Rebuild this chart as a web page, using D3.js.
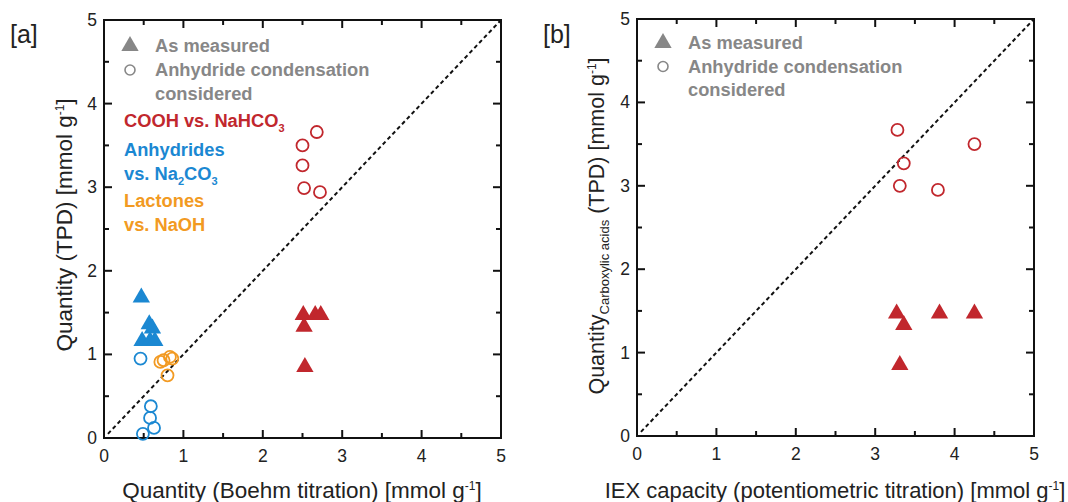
<!DOCTYPE html>
<html>
<head>
<meta charset="utf-8">
<script src="https://cdn.jsdelivr.net/npm/d3@7"></script>
<style>
  body { margin: 0; background: #fff; }
  svg { display: block; font-family: "Liberation Sans", Arial, sans-serif; }
</style>
</head>
<body>
<svg id="chart" width="1068" height="502"></svg>
<script>
// ── Data ──────────────────────────────────────────────────────
const RED = "#c1272d", BLUE = "#1b88d2", ORANGE = "#f29a22", GREY = "#878787";

// panel a: Boehm titration vs TPD
const cooh_meas   = [[2.51,1.47],[2.66,1.47],[2.73,1.47],[2.52,1.33],[2.53,0.85]];
const cooh_cond   = [[2.68,3.66],[2.50,3.50],[2.50,3.26],[2.52,2.99],[2.72,2.94]];
const anh_meas    = [[0.47,1.68],[0.57,1.36],[0.61,1.31],[0.48,1.16],[0.58,1.16],[0.64,1.16]];
const anh_cond    = [[0.46,0.95],[0.59,0.38],[0.58,0.24],[0.63,0.12],[0.49,0.05]];
const lact_cond   = [[0.71,0.91],[0.75,0.93],[0.83,0.97],[0.86,0.95],[0.80,0.75]];

// panel b: IEX capacity vs TPD carboxylic acids
const iex_meas = [[3.27,1.47],[3.36,1.33],[3.81,1.47],[4.25,1.47],[3.31,0.85]];
const iex_cond = [[3.28,3.67],[3.36,3.27],[3.31,3.00],[3.79,2.95],[4.25,3.50]];

const majorTicks = [0, 1, 2, 3, 4, 5];
const minorTicks = [0.5, 1.5, 2.5, 3.5, 4.5];

const svg = d3.select("#chart");
const tri = d3.symbol().type(d3.symbolTriangle).size(130);

function panel(o) {
  const x = d3.scaleLinear().domain([0, 5]).range([o.left, o.right]);
  const y = d3.scaleLinear().domain([0, 5]).range([o.bottom, o.top]);
  const g = svg.append("g");

  // frame
  g.append("rect")
    .attr("x", o.left).attr("y", o.top)
    .attr("width", o.right - o.left).attr("height", o.bottom - o.top)
    .attr("fill", "none").attr("stroke", "#111").attr("stroke-width", 2);

  // inward ticks on all four sides
  const tk = (vals, len) => {
    vals.forEach(v => {
      g.append("line").attr("x1", x(v)).attr("x2", x(v)).attr("y1", o.bottom).attr("y2", o.bottom - len);
      g.append("line").attr("x1", x(v)).attr("x2", x(v)).attr("y1", o.top).attr("y2", o.top + len);
      g.append("line").attr("y1", y(v)).attr("y2", y(v)).attr("x1", o.left).attr("x2", o.left + len);
      g.append("line").attr("y1", y(v)).attr("y2", y(v)).attr("x1", o.right).attr("x2", o.right - len);
    });
  };
  tk(majorTicks, 8);
  tk(minorTicks, 5);
  g.selectAll("line").attr("stroke", "#111").attr("stroke-width", 2);

  // tick labels
  g.selectAll(".xl").data(majorTicks).join("text")
    .attr("x", d => x(d)).attr("y", o.bottom + 24)
    .attr("text-anchor", "middle").attr("font-size", 17.5).attr("fill", "#222")
    .text(d => d);
  g.selectAll(".yl").data(majorTicks).join("text")
    .attr("x", o.left - 7).attr("y", d => y(d) + 6)
    .attr("text-anchor", "end").attr("font-size", 17.5).attr("fill", "#222")
    .text(d => d);

  // 1:1 line
  g.append("line")
    .attr("x1", x(0.05)).attr("y1", y(0.05)).attr("x2", x(5)).attr("y2", y(5))
    .attr("stroke", "#111").attr("stroke-width", 2).attr("stroke-dasharray", "4,3");

  return { g, x, y };
}

function triangles(p, data, color) {
  p.g.selectAll(null).data(data).join("path")
    .attr("d", tri)
    .attr("transform", d => `translate(${p.x(d[0])},${p.y(d[1])})`)
    .attr("fill", color);
}
function circles(p, data, color) {
  p.g.selectAll(null).data(data).join("circle")
    .attr("cx", d => p.x(d[0])).attr("cy", d => p.y(d[1])).attr("r", 6)
    .attr("fill", "none").attr("stroke", color).attr("stroke-width", 1.8);
}

function legend(p, lx, ly, tx, gap) {
  p.g.append("path").attr("d", tri).attr("fill", GREY)
    .attr("transform", `translate(${lx},${ly})`);
  p.g.append("circle").attr("cx", lx).attr("cy", ly + gap).attr("r", 5)
    .attr("fill", "none").attr("stroke", GREY).attr("stroke-width", 1.6);
  const t = (s, yy) => p.g.append("text").attr("x", tx).attr("y", yy)
    .attr("font-size", 18.3).attr("font-weight", "bold").attr("fill", GREY).text(s);
  t("As measured", ly + 6);
  t("Anhydride condensation", ly + 6 + gap);
  t("considered", ly + 6 + 2 * gap);
}

function rotLabel(x0, y0, parts, fs) {
  const t = svg.append("text")
    .attr("transform", `translate(${x0},${y0}) rotate(-90)`)
    .attr("text-anchor", "middle").attr("font-size", fs).attr("fill", "#222");
  addParts(t, parts);
}
function addParts(t, parts) {
  let shift = 0;
  parts.forEach(([s, mode, fs]) => {
    const target = mode === "sup" ? -8 : mode === "sub" ? 5 : 0;
    t.append("tspan")
      .attr("font-size", mode ? (fs || 12) : null)
      .attr("dy", target - shift)
      .text(s);
    shift = target;
  });
}

// ── Panel a ───────────────────────────────────────────────────
const pa = panel({ left: 104, right: 501, top: 20, bottom: 438 });
legend(pa, 130, 46, 155, 24);
triangles(pa, anh_meas, BLUE);
triangles(pa, cooh_meas, RED);
circles(pa, anh_cond, BLUE);
circles(pa, lact_cond, ORANGE);
circles(pa, cooh_cond, RED);

const ct = (x0, y0, color, parts) => {
  const t = pa.g.append("text").attr("x", x0).attr("y", y0)
    .attr("font-size", 18.3).attr("font-weight", "bold").attr("fill", color);
  addParts(t, parts);
};
ct(124, 127, RED,    [["COOH vs. NaHCO"], ["3", "sub", 11]]);
ct(124, 156, BLUE,   [["Anhydrides"]]);
ct(124, 180, BLUE,   [["vs. Na"], ["2", "sub", 11], ["CO"], ["3", "sub", 11]]);
ct(124, 207, ORANGE, [["Lactones"]]);
ct(124, 231, ORANGE, [["vs. NaOH"]]);

svg.append("text").attr("x", 10).attr("y", 43).attr("font-size", 25).attr("fill", "#222").text("[a]");
rotLabel(72, 225, [["Quantity (TPD) [mmol g"], ["-1", "sup"], ["]"]], 22.5);
{
  const t = svg.append("text").attr("x", 302).attr("y", 498)
    .attr("text-anchor", "middle").attr("font-size", 22.5).attr("fill", "#222");
  addParts(t, [["Quantity (Boehm titration) [mmol g"], ["-1", "sup"], ["]"]]);
}

// ── Panel b ───────────────────────────────────────────────────
const pb = panel({ left: 637, right: 1034, top: 19, bottom: 436 });
legend(pb, 663, 43, 688, 23.5);
triangles(pb, iex_meas, RED);
circles(pb, iex_cond, RED);

svg.append("text").attr("x", 543).attr("y", 43).attr("font-size", 25).attr("fill", "#222").text("[b]");
rotLabel(604, 226, [["Quantity"], ["Carboxylic acids", "sub", 13], [" (TPD) [mmol g"], ["-1", "sup"], ["]"]], 21.5);
{
  const t = svg.append("text").attr("x", 835).attr("y", 498)
    .attr("text-anchor", "middle").attr("font-size", 22).attr("fill", "#222");
  addParts(t, [["IEX capacity (potentiometric titration) [mmol g"], ["-1", "sup"], ["]"]]);
}
</script>
</body>
</html>
